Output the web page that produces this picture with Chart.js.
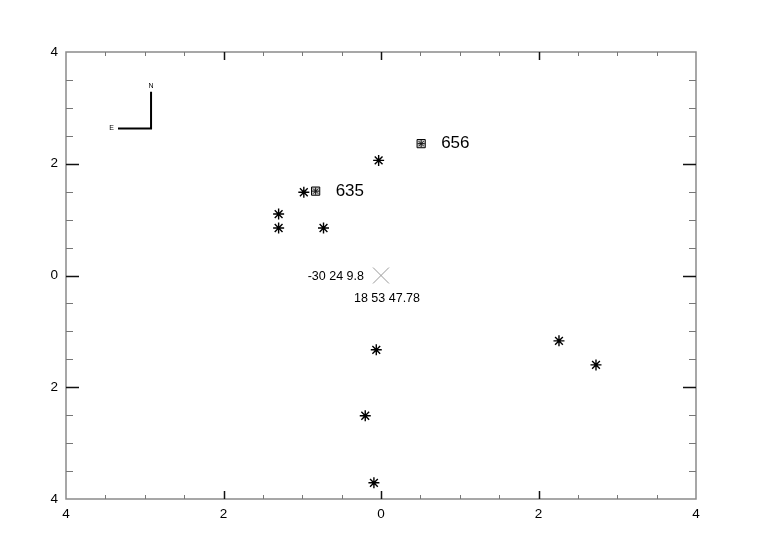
<!DOCTYPE html>
<html>
<head>
<meta charset="utf-8">
<script src="https://cdn.jsdelivr.net/npm/chart.js@4/dist/chart.umd.min.js"></script>
<style>
  html, body { margin: 0; padding: 0; background: #fff; }
  #wrap { width: 763px; height: 549px; }
</style>
</head>
<body>
<div id="wrap"><canvas id="chart"></canvas></div>
<script>
// offsets from field centre (x grows to the east = left)
const starX = [0.03, 0.98, 1.30, 1.30, 0.73, 0.06, 0.20, 0.09, -2.26, -2.73];
const starY = [2.06, 1.49, 1.10, 0.85, 0.85, -1.33, -2.51, -3.71, -1.17, -1.60];
const boxX = [-0.51, 0.83];
const boxY = [2.36, 1.51];
const boxNames = ['656', '635'];
const centreX = [0];
const centreY = [0];
const centreDec = '-30 24 9.8';
const centreRA = '18 53 47.78';
const compassX = [2.92, 2.92, 3.34];
const compassY = [3.29, 2.63, 2.63];
const axisMin = -4, axisMax = 4, majorStep = 2, minorStep = 0.5;

function toPoints(xs, ys) {
    return xs.map((x, i) => ({ x: x, y: ys[i] }));
}

const frameTicks = {
    id: 'frameTicks',
    afterDraw(chart) {
        const ctx = chart.ctx;
        const a = chart.chartArea;
        const xs = chart.scales.x, ys = chart.scales.y;
        ctx.save();
        ctx.strokeStyle = '#8a8a8a';
        ctx.lineWidth = 1.5;
        ctx.strokeRect(a.left, a.top, a.right - a.left, a.bottom - a.top);
        for (let v = axisMin + minorStep; v < axisMax; v += minorStep) {
            const major = Math.abs(v % majorStep) < 1e-6;
            ctx.strokeStyle = major ? '#111' : '#777';
            ctx.lineWidth = major ? 1.5 : 1;
            const px = Math.round(xs.getPixelForValue(v)) + 0.5;
            const py = Math.round(ys.getPixelForValue(v)) + 0.5;
            const lx = major ? 8 : 4;
            const ly = major ? 13 : 7;
            ctx.beginPath();
            ctx.moveTo(px, a.bottom); ctx.lineTo(px, a.bottom - lx);
            ctx.moveTo(px, a.top); ctx.lineTo(px, a.top + lx);
            ctx.moveTo(a.left, py); ctx.lineTo(a.left + ly, py);
            ctx.moveTo(a.right, py); ctx.lineTo(a.right - ly, py);
            ctx.stroke();
        }
        ctx.restore();
    }
};

const labels = {
    id: 'labels',
    afterDatasetsDraw(chart) {
        const ctx = chart.ctx;
        const xs = chart.scales.x, ys = chart.scales.y;
        ctx.save();
        ctx.fillStyle = '#000';
        ctx.textBaseline = 'middle';
        ctx.font = '17px "Liberation Sans", Arial, sans-serif';
        ctx.textAlign = 'left';
        boxNames.forEach((name, i) => {
            ctx.fillText(name, xs.getPixelForValue(boxX[i]) + 20, ys.getPixelForValue(boxY[i]));
        });
        const cx = xs.getPixelForValue(centreX[0]);
        const cy = ys.getPixelForValue(centreY[0]);
        ctx.font = '12.5px "Liberation Sans", Arial, sans-serif';
        ctx.textAlign = 'right';
        ctx.fillText(centreDec, cx - 17, cy + 1);
        ctx.textAlign = 'center';
        ctx.fillText(centreRA, cx + 6, cy + 23);
        ctx.font = '7px "Liberation Sans", Arial, sans-serif';
        ctx.fillText('N', xs.getPixelForValue(compassX[0]), ys.getPixelForValue(compassY[0]) - 6);
        ctx.textAlign = 'right';
        ctx.fillText('E', xs.getPixelForValue(compassX[2]) - 4, ys.getPixelForValue(compassY[2]));
        ctx.restore();
    }
};

new Chart(document.getElementById('chart'), {
    type: 'scatter',
    data: {
        datasets: [
            {
                label: 'compass',
                data: toPoints(compassX, compassY),
                showLine: true,
                borderColor: '#000',
                borderWidth: 2,
                pointRadius: 0,
                order: 1
            },
            {
                label: 'stars',
                data: toPoints(starX, starY),
                pointStyle: 'star',
                pointRadius: 5.5,
                borderColor: '#000',
                borderWidth: 1.4,
                order: 2
            },
            {
                label: 'boxes inner',
                data: toPoints(boxX, boxY),
                pointStyle: 'star',
                pointRadius: 3.6,
                borderColor: '#111',
                borderWidth: 1,
                order: 0
            },
            {
                label: 'boxes',
                data: toPoints(boxX, boxY),
                pointStyle: 'rect',
                pointRadius: 5.8,
                backgroundColor: '#ccc',
                borderColor: '#000',
                borderWidth: 1,
                order: 3
            },
            {
                label: 'centre',
                data: toPoints(centreX, centreY),
                pointStyle: 'crossRot',
                pointRadius: 11.3,
                borderColor: '#999',
                borderWidth: 1,
                order: 4
            }
        ]
    },
    options: {
        responsive: true,
        maintainAspectRatio: false,
        animation: false,
        layout: { padding: { top: 52, right: 67, left: 0, bottom: 0 } },
        plugins: { legend: { display: false }, tooltip: { enabled: false } },
        elements: { point: { hoverRadius: 5 } },
        scales: {
            x: {
                min: axisMin, max: axisMax, reverse: true,
                grid: { display: false, drawTicks: false },
                border: { display: false },
                afterFit(s) { s.height = 50; },
                ticks: {
                    stepSize: majorStep, padding: 7, color: '#000',
                    font: { size: 13.5, family: '"Liberation Sans", Arial, sans-serif' },
                    callback: v => Math.abs(v)
                }
            },
            y: {
                min: axisMin, max: axisMax,
                grid: { display: false, drawTicks: false },
                border: { display: false },
                afterFit(s) { s.width = 66; },
                ticks: {
                    stepSize: majorStep, padding: 8, color: '#000',
                    font: { size: 13.5, family: '"Liberation Sans", Arial, sans-serif' },
                    callback: v => Math.abs(v)
                }
            }
        }
    },
    plugins: [frameTicks, labels]
});
</script>
</body>
</html>
